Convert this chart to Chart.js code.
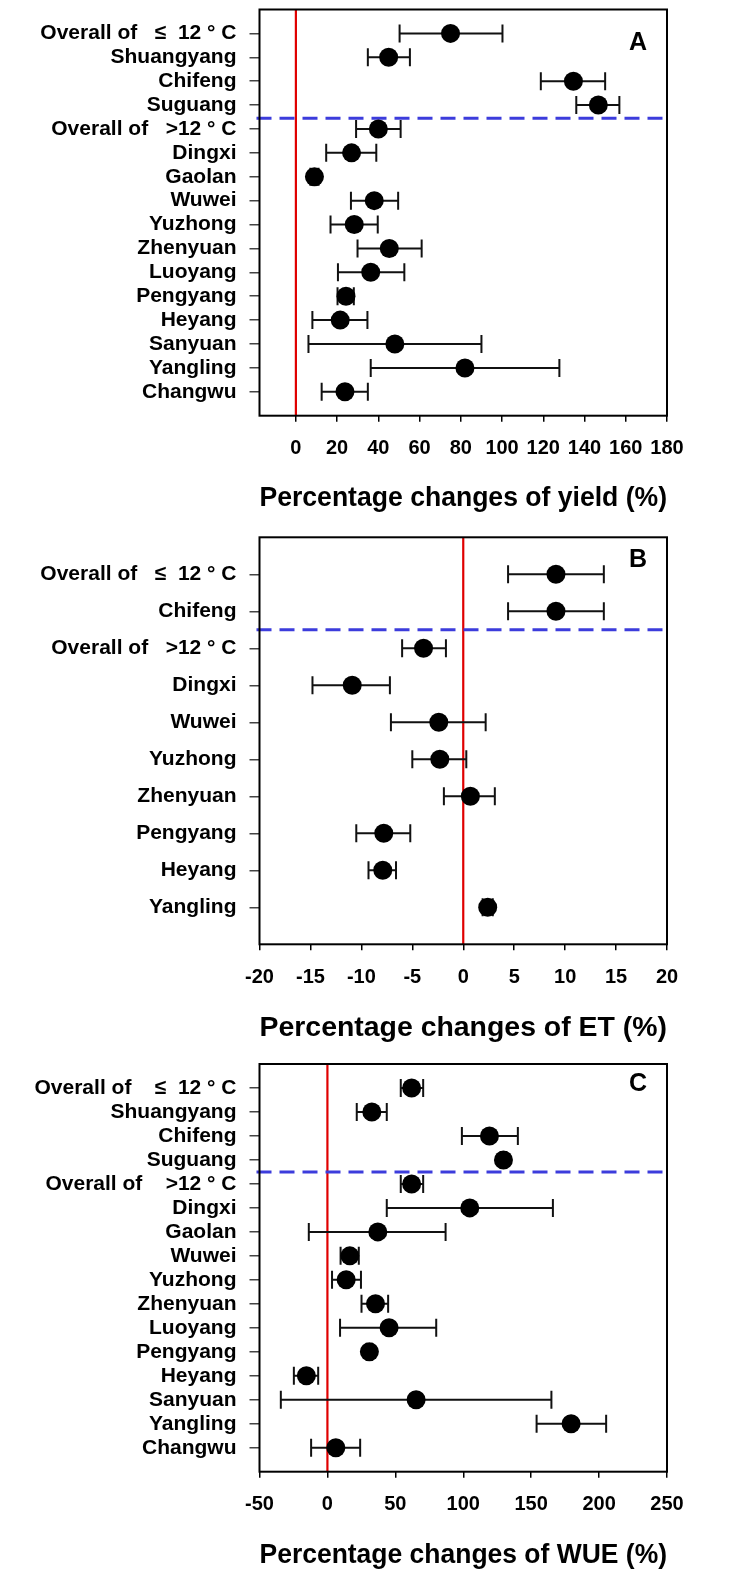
<!DOCTYPE html>
<html>
<head>
<meta charset="utf-8">
<script src="https://cdn.jsdelivr.net/npm/chart.js@4.4.1/dist/chart.umd.min.js"></script>
<style>
  html, body { margin: 0; padding: 0; background: #fff; overflow: hidden; }
  body { width: 733px; height: 1570px; position: relative; }
  canvas { position: absolute; left: 0; }
</style>
</head>
<body>
<canvas id="chartA" width="733" height="525" style="top:0px"></canvas>
<canvas id="chartB" width="733" height="525" style="top:525px"></canvas>
<canvas id="chartC" width="733" height="524" style="top:1050px"></canvas>
<script>
// ---- data ----
const sitesA = ["Overall of   ≤  12 ° C", "Shuangyang", "Chifeng", "Suguang", "Overall of   >12 ° C",
  "Dingxi", "Gaolan", "Wuwei", "Yuzhong", "Zhenyuan", "Luoyang", "Pengyang", "Heyang",
  "Sanyuan", "Yangling", "Changwu"];
const yieldMean = [75, 45, 134.6, 146.7, 40, 27, 9, 38, 28.3, 45.3, 36.3, 24.3, 21.5, 48, 82, 23.8];
const yieldLow  = [50.3, 34.9, 118.8, 136, 29.2, 14.7, 7, 26.7, 16.8, 29.9, 20.4, 20.2, 8, 6.1, 36.3, 12.5];
const yieldHigh = [100.2, 55.3, 150, 156.9, 50.8, 39, 11, 49.6, 39.7, 61, 52.6, 28.1, 34.7, 90, 127.8, 34.9];
const yieldTicks = [0, 20, 40, 60, 80, 100, 120, 140, 160, 180];

const sitesB = ["Overall of   ≤  12 ° C", "Chifeng", "Overall of   >12 ° C", "Dingxi", "Wuwei",
  "Yuzhong", "Zhenyuan", "Pengyang", "Heyang", "Yangling"];
const etMean = [9.1, 9.1, -3.9, -10.9, -2.4, -2.3, 0.7, -7.8, -7.9, 2.4];
const etLow  = [4.4, 4.4, -6, -14.8, -7.1, -5, -1.9, -10.5, -9.3, 1.9];
const etHigh = [13.8, 13.8, -1.7, -7.2, 2.2, 0.3, 3.1, -5.2, -6.6, 2.9];
const etTicks = [-20, -15, -10, -5, 0, 5, 10, 15, 20];

const sitesC = ["Overall of    ≤  12 ° C", "Shuangyang", "Chifeng", "Suguang", "Overall of    >12 ° C",
  "Dingxi", "Gaolan", "Wuwei", "Yuzhong", "Zhenyuan", "Luoyang", "Pengyang", "Heyang",
  "Sanyuan", "Yangling", "Changwu"];
const wueMean = [62, 32.7, 119.3, 129.6, 62, 104.8, 37.1, 16.5, 13.8, 35.4, 45.4, 30.9, -15.5, 65.3, 179.4, 6.2];
const wueLow  = [54, 21.6, 99, 127.6, 54, 43.7, -13.7, 9.7, 3.4, 25.1, 9.3, 28.9, -24.7, -34.3, 154, -12];
const wueHigh = [70.5, 43.7, 140.2, 131.6, 70.5, 166, 87, 23.1, 24.7, 44.7, 80.1, 32.9, -6.8, 164.9, 205.2, 24.1];
const wueTicks = [-50, 0, 50, 100, 150, 200, 250];

Chart.defaults.font.family = "'Liberation Sans', Arial, sans-serif";
Chart.defaults.font.weight = "bold";
Chart.defaults.color = "#000";

// error bars, zero line, group split line, frame and panel letter
const forestPlugin = {
  id: "forest",
  beforeDatasetsDraw(chart, args, opts) {
    const { ctx, chartArea: a, scales: { x, y } } = chart;
    ctx.save();
    // red zero line
    const x0 = x.getPixelForValue(0);
    ctx.strokeStyle = "#e00000";
    ctx.lineWidth = 2.2;
    ctx.beginPath();
    ctx.moveTo(x0, a.top);
    ctx.lineTo(x0, a.bottom);
    ctx.stroke();
    // blue dashed split
    const yd = y.getPixelForValue(opts.split);
    ctx.strokeStyle = "#3c3cdc";
    ctx.lineWidth = 3;
    ctx.setLineDash([15, 8]);
    ctx.beginPath();
    ctx.moveTo(a.left - 3, yd);
    ctx.lineTo(a.right + 3, yd);
    ctx.stroke();
    ctx.setLineDash([]);
    // error bars
    ctx.strokeStyle = "#111";
    ctx.lineWidth = 2;
    opts.low.forEach((lo, i) => {
      const py = y.getPixelForValue(i + 1);
      const x1 = x.getPixelForValue(lo);
      const x2 = x.getPixelForValue(opts.high[i]);
      ctx.beginPath();
      ctx.moveTo(x1, py); ctx.lineTo(x2, py);
      ctx.moveTo(x1, py - 9); ctx.lineTo(x1, py + 9);
      ctx.moveTo(x2, py - 9); ctx.lineTo(x2, py + 9);
      ctx.stroke();
    });
    ctx.restore();
  },
  afterDraw(chart, args, opts) {
    const { ctx, chartArea: a } = chart;
    ctx.save();
    ctx.strokeStyle = "#000";
    ctx.lineWidth = 2;
    ctx.strokeRect(a.left, a.top, a.right - a.left, a.bottom - a.top);
    ctx.font = "bold 25px 'Liberation Sans', Arial, sans-serif";
    ctx.fillStyle = "#000";
    ctx.textAlign = "center";
    ctx.textBaseline = "middle";
    ctx.fillText(opts.letter, a.right - 29, a.top + opts.letterY);
    ctx.restore();
  }
};

function makePanel(id, sites, mean, low, high, ticks, xmin, xmax, split, letter, letterY, title, padTop, padBottom, axisH) {
  const rows = sites.map((s, i) => i + 1);
  new Chart(document.getElementById(id), {
    type: "scatter",
    data: {
      datasets: [{
        data: mean.map((v, i) => ({ x: v, y: rows[i] })),
        backgroundColor: "#000",
        borderWidth: 0,
        pointRadius: 9.5,
        pointHoverRadius: 9.5
      }]
    },
    options: {
      responsive: false,
      animation: false,
      events: [],
      layout: { padding: { top: padTop, bottom: padBottom, left: 0, right: 66 } },
      plugins: {
        legend: { display: false },
        tooltip: { enabled: false },
        forest: { low: low, high: high, split: split, letter: letter, letterY: letterY }
      },
      scales: {
        x: {
          type: "linear",
          min: xmin,
          max: xmax,
          afterBuildTicks: (s) => { s.ticks = ticks.map(v => ({ value: v })); },
          afterFit: (s) => { s.height = axisH; },
          border: { display: false },
          grid: { drawOnChartArea: false, drawTicks: true, tickLength: 6, color: "#000", lineWidth: 1.5 },
          ticks: { autoSkip: false, maxRotation: 0, padding: 15, font: { size: 20, weight: "bold" }, color: "#000" },
          title: {
            display: true,
            text: title,
            font: { size: 28.5, weight: "bold" },
            color: "#000",
            padding: { top: 0, bottom: 0 }
          }
        },
        y: {
          type: "linear",
          reverse: true,
          min: 0,
          max: sites.length + 1,
          afterBuildTicks: (s) => { s.ticks = rows.map(v => ({ value: v })); },
          afterFit: (s) => { s.width = 259.5; s.paddingTop = 0; s.paddingBottom = 0; },
          border: { display: false },
          grid: { drawOnChartArea: false, drawTicks: true, tickLength: 10, color: "#444", lineWidth: 1.5 },
          ticks: {
            autoSkip: false,
            padding: 13,
            font: { size: 21, weight: "bold" },
            color: "#000",
            callback: (v, i) => sites[i]
          }
        }
      }
    },
    plugins: [forestPlugin]
  });
}

makePanel("chartA", sitesA, yieldMean, yieldLow, yieldHigh, yieldTicks, -17.65, 180, 4.55, "A", 33.5,
  "Percentage changes of yield (%)", 7.3, 9.3, 100);
makePanel("chartB", sitesB, etMean, etLow, etHigh, etTicks, -20, 20, 2.5, "B", 23.2,
  "Percentage changes of ET (%)", 12.3, 4.7, 101);
makePanel("chartC", sitesC, wueMean, wueLow, wueHigh, wueTicks, -50, 250, 4.5, "C", 20,
  "Percentage changes of WUE (%)", 14, 1.3, 101);
</script>
</body>
</html>
